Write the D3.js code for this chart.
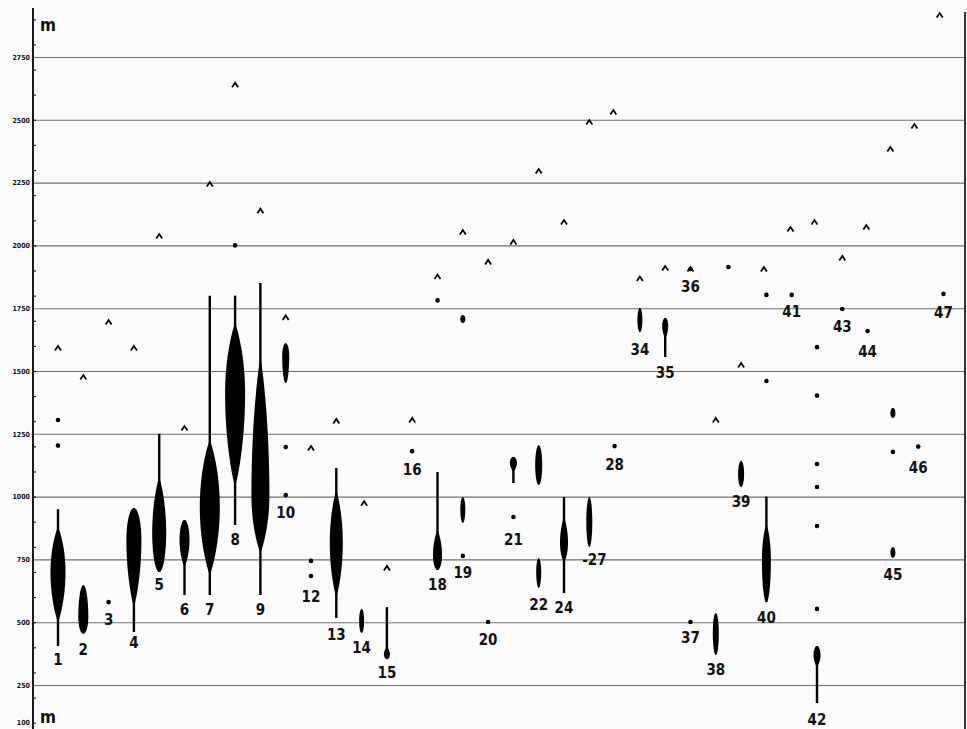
<!DOCTYPE html>
<html>
<head>
<meta charset="utf-8">
<script src="https://cdn.jsdelivr.net/npm/d3@7"></script>
<style>
  body { margin: 0; background: #fbfbfb; }
  svg { display: block; }
  .num { font-family: "DejaVu Sans Condensed", "DejaVu Sans", sans-serif; font-weight: bold; font-size: 15px; fill: #111; }
  .axlab { font-family: "DejaVu Sans Condensed", sans-serif; font-weight: bold; font-size: 7px; fill: #111; }
</style>
</head>
<body>
<svg id="chart" width="967" height="729"></svg>
<script>
// elevation levels (m)
var gridLevels = [250, 500, 750, 1000, 1250, 1500, 1750, 2000, 2250, 2500, 2750];
var tickLabels = [100, 250, 500, 750, 1000, 1250, 1500, 1750, 2000, 2250, 2500, 2750];
var minorTicks = d3.range(100, 2901, 100);

// summit marks "^" : [column, elevation]
var carets = [
  [0, 1592], [1, 1476], [2, 1695], [3, 1592], [4, 2037], [5, 1273], [6, 2244], [7, 2640],
  [8, 2138], [9, 1713], [10, 1193], [11, 1301], [12.1, 974], [13, 716], [14, 1305], [15, 1876],
  [16, 2053], [17, 1934], [18, 2014], [19, 2296], [20, 2093], [21, 2491], [21.95, 2531],
  [23, 1868], [24, 1910], [25, 1906], [26, 1305], [27, 1524], [27.9, 1906], [28.95, 2065],
  [29.9, 2093], [31, 1950], [31.95, 2073], [32.9, 2384], [33.85, 2475], [34.85, 2917]
];

// single finds : [column, elevation]
var dots = [
  [0, 1305], [0, 1203], [2, 580], [7, 2000], [9, 1197], [9, 1006], [10, 744], [10, 684],
  [14, 1181], [15, 1781], [16, 764], [17, 501], [18, 919], [22, 1201], [25, 1906], [25, 501],
  [26.5, 1914], [28, 1803], [28, 1460], [29, 1803], [30, 1595], [30, 1402], [30, 1130],
  [30, 1038], [30, 883], [30, 553], [31, 1747], [32, 1659], [33, 1178], [34, 1199], [35, 1807]
];

// distributions: range line lo-hi, body bLo-bHi, widest at peak, width w
var spindles = [
  {col: 0, lo: 405, hi: 950, bLo: 500, bHi: 880, peak: 700, w: 7.5},
  {col: 1, bLo: 453, bHi: 648, peak: 521, w: 5},
  {col: 3, lo: 461, bLo: 560, bHi: 955, peak: 827, w: 7.5},
  {col: 4, lo: 700, hi: 1250, bLo: 700, bHi: 1078, peak: 855, w: 7},
  {col: 5, lo: 608, bLo: 720, bHi: 907, peak: 827, w: 5},
  {col: 6, lo: 608, hi: 1800, bLo: 688, bHi: 1225, peak: 959, w: 10},
  {col: 7, lo: 887, hi: 1800, bLo: 1038, bHi: 1691, peak: 1412, w: 10},
  {col: 8, lo: 608, hi: 1850, bLo: 775, bHi: 1556, peak: 1006, w: 9},
  {col: 9, bLo: 1452, bHi: 1611, peak: 1560, w: 3.5},
  {col: 11, lo: 517, hi: 1114, bLo: 600, bHi: 1026, peak: 815, w: 6.5},
  {col: 12, bLo: 457, bHi: 553, peak: 505, w: 2.5},
  {col: 13, lo: 353, hi: 560, bLo: 353, bHi: 401, peak: 372, w: 3},
  {col: 15, lo: 708, hi: 1098, bLo: 708, bHi: 867, peak: 767, w: 4.5},
  {col: 16, bLo: 895, bHi: 998, peak: 950, w: 2.5},
  {col: 16, bLo: 1691, bHi: 1723, peak: 1707, w: 2.5},
  {col: 18, lo: 1054, hi: 1158, bLo: 1100, bHi: 1158, peak: 1134, w: 3.5},
  {col: 19, bLo: 1046, bHi: 1205, peak: 1125, w: 3.5},
  {col: 19, bLo: 636, bHi: 756, peak: 700, w: 2.5},
  {col: 20, lo: 616, hi: 998, bLo: 736, bHi: 919, peak: 815, w: 4},
  {col: 21, bLo: 799, bHi: 998, peak: 900, w: 3},
  {col: 23, bLo: 1655, bHi: 1751, peak: 1703, w: 2.5},
  {col: 24, lo: 1556, hi: 1711, bLo: 1630, bHi: 1711, peak: 1680, w: 3},
  {col: 26, bLo: 369, bHi: 537, peak: 457, w: 3},
  {col: 27, bLo: 1038, bHi: 1142, peak: 1090, w: 3},
  {col: 28, lo: 580, hi: 1000, bLo: 580, bHi: 895, peak: 748, w: 4.5},
  {col: 30, lo: 178, hi: 405, bLo: 322, bHi: 405, peak: 369, w: 3.5},
  {col: 33, bLo: 1313, bHi: 1353, peak: 1333, w: 2.5},
  {col: 33, bLo: 756, bHi: 799, peak: 777, w: 2.5}
];

// site numbers : [column, text, elevation of label centre]
var labels = [
  [0, "1", 350], [1, "2", 389], [2, "3", 509], [3, "4", 417], [4, "5", 648], [5, "6", 549],
  [6, "7", 549], [7, "8", 827], [8, "9", 549], [9, "10", 935], [10, "12", 600], [11, "13", 449],
  [12, "14", 397], [13, "15", 298], [14, "16", 1106], [15, "18", 648], [16, "19", 696],
  [17, "20", 429], [18, "21", 827], [19, "22", 568], [20, "24", 556], [21.2, "-27", 748],
  [22, "28", 1126], [23, "34", 1584], [24, "35", 1492], [25, "36", 1834], [25, "37", 437],
  [26, "38", 310], [27, "39", 978], [28, "40", 517], [29, "41", 1735], [30, "42", 111],
  [31, "43", 1675], [32, "44", 1576], [33, "45", 688], [34, "46", 1114], [35, "47", 1731]
];

var svg = d3.select("#chart"),
    W = 967, H = 729,
    axisX = 33;

var x = d3.scaleLinear().domain([0, 35]).range([58, 943.5]),
    y = d3.scaleLinear().domain([250, 2750]).range([685, 57]),
    wScale = d3.scaleLinear().domain([0, 10]).range([0, 20]);

svg.append("rect").attr("width", W).attr("height", H).attr("fill", "#fbfbfb");

// --- GRID --- //
var grid = svg.append("g").attr("transform", "translate(" + axisX + ",0)")
  .call(d3.axisRight(y).tickValues(gridLevels).tickSize(W - axisX - 2).tickFormat(""));
grid.select(".domain").remove();
grid.selectAll("line").attr("stroke", "#707070").attr("stroke-width", 1.1);

// --- AXIS --- //
var minor = svg.append("g").attr("transform", "translate(" + axisX + ",0)")
  .call(d3.axisRight(y).tickValues(minorTicks).tickSize(3).tickFormat(""));
minor.select(".domain").remove();
minor.selectAll("line").attr("stroke", "#222").attr("stroke-width", 1.2);

var lab = svg.append("g").attr("transform", "translate(" + (axisX - 3) + ",0)")
  .call(d3.axisLeft(y).tickValues(tickLabels).tickSize(0).tickPadding(0).tickFormat(d3.format("d")));
lab.select(".domain").remove();
lab.selectAll("text").attr("class", "axlab").attr("font-family", null).attr("font-size", null);

svg.append("line").attr("x1", axisX).attr("x2", axisX).attr("y1", 8).attr("y2", H)
  .attr("stroke", "#1a1a1a").attr("stroke-width", 2);
svg.append("line").attr("x1", W - 2).attr("x2", W - 2).attr("y1", 12).attr("y2", H)
  .attr("stroke", "#333").attr("stroke-width", 2);

svg.append("text").attr("x", 40).attr("y", 31).attr("class", "num").style("font-size", "17px").text("m");
svg.append("text").attr("x", 40).attr("y", 723).attr("class", "num").style("font-size", "17px").text("m");

// --- RANGE LINES --- //
function hasRange(d) { return d.lo !== undefined || d.hi !== undefined; }

svg.selectAll(".range").data(spindles.filter(hasRange))
  .enter().append("line")
  .attr("class", "range")
  .attr("x1", function(d) { return x(d.col); })
  .attr("x2", function(d) { return x(d.col); })
  .attr("y1", function(d) { return y(d.lo !== undefined ? d.lo : d.bLo); })
  .attr("y2", function(d) { return y(d.hi !== undefined ? d.hi : d.bHi); })
  .attr("stroke", "#000").attr("stroke-width", 2.4);

// --- BODIES --- //
// an end tapers into the line where the range goes past it, otherwise it is rounded
function profile(d) {
  var pts = [], n = 60,
      pTop = (d.hi !== undefined && d.hi > d.bHi) ? 0.9 : 0.5,
      pBot = (d.lo !== undefined && d.lo < d.bLo) ? 0.9 : 0.5;
  for (var i = 0; i <= n; i++) {
    var e = d.bLo + (d.bHi - d.bLo) * i / n,
        up = e >= d.peak,
        t = up ? (e - d.peak) / (d.bHi - d.peak) : (d.peak - e) / (d.peak - d.bLo);
    pts.push({e: e, hw: wScale(d.w) / 2 * Math.pow(Math.max(0, 1 - t * t), up ? pTop : pBot)});
  }
  return pts;
}

svg.selectAll(".body").data(spindles).enter().append("path")
  .attr("class", "body")
  .attr("fill", "#000")
  .attr("d", function(d) {
    var cx = x(d.col);
    return d3.area()
      .y(function(p) { return y(p.e); })
      .x0(function(p) { return cx - p.hw; })
      .x1(function(p) { return cx + p.hw; })(profile(d));
  });

// --- DOTS --- //
svg.selectAll(".dot").data(dots).enter().append("circle")
  .attr("class", "dot")
  .attr("cx", function(d) { return x(d[0]); })
  .attr("cy", function(d) { return y(d[1]); })
  .attr("r", 2.3).attr("fill", "#000");

// --- CARETS --- //
svg.selectAll(".caret").data(carets).enter().append("path")
  .attr("class", "caret")
  .attr("transform", function(d) { return "translate(" + x(d[0]) + "," + y(d[1]) + ")"; })
  .attr("d", "M-3,2.5L0,-2L3,2.5")
  .attr("fill", "none").attr("stroke", "#000").attr("stroke-width", 1.8);

// --- SITE NUMBERS --- //
svg.selectAll(".site").data(labels).enter().append("text")
  .attr("class", "num")
  .attr("x", function(d) { return x(d[0]); })
  .attr("y", function(d) { return y(d[2]); })
  .attr("text-anchor", "middle")
  .attr("dominant-baseline", "central")
  .text(function(d) { return d[1]; });
</script>
</body>
</html>
